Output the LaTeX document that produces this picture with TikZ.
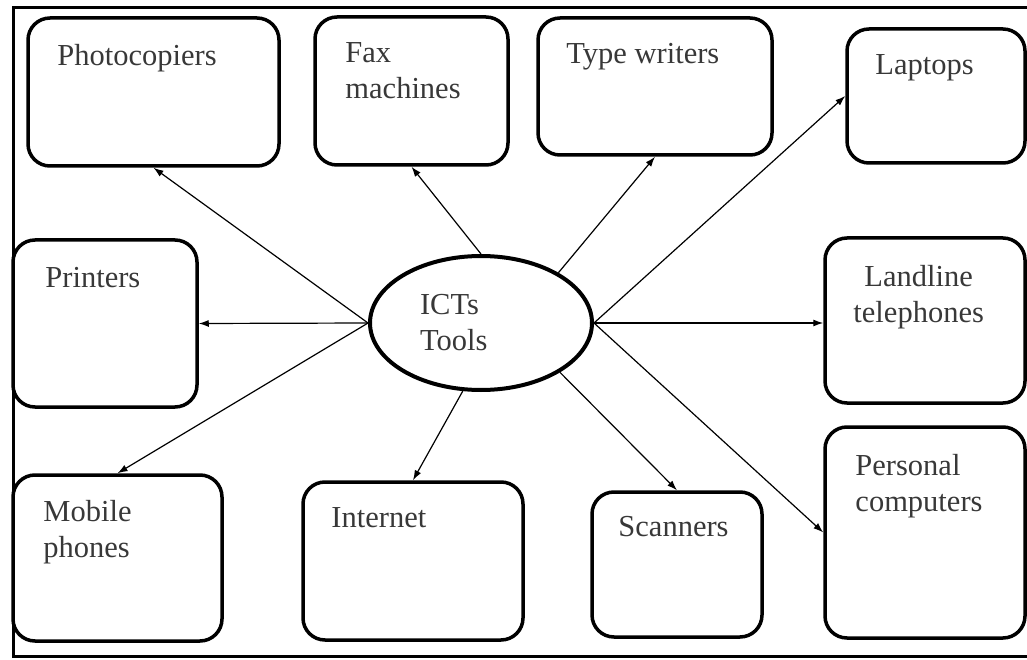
\documentclass[tikz,border=0pt]{standalone}
\usepackage{fontspec}
\setmainfont{Liberation Serif}
\usetikzlibrary{shapes.geometric,arrows.meta}
\begin{document}
\begin{tikzpicture}[x=1pt,y=-1pt]
	\tikzstyle{tool}=[draw,line width=3.5pt,rounded corners=22pt,inner sep=0pt]
	\tikzstyle{tag}=[anchor=north west,inner sep=0pt,align=left,text=black!78,font=\fontsize{30.5}{36}\selectfont]
	\tikzstyle{arr}=[line width=1.2pt,-{Latex[length=10pt,width=7pt]}]
	\useasboundingbox (0,0) rectangle (1027,660);
	\draw[line width=3pt] (13,8) rectangle (1032,656);
	% centre
	\node[draw,ellipse,line width=4pt,minimum width=222pt,minimum height=134pt,text width=122pt,align=left,text=black!78,font=\fontsize{30.5}{36}\selectfont] (ict) at (481,323) {ICTs\\Tools};
	% tools
	\node[tool,minimum width=251pt,minimum height=148pt] (photo) at (153.5,92) {};
	\node[tool,minimum width=193pt,minimum height=148pt] (fax) at (411.5,91) {};
	\node[tool,minimum width=234pt,minimum height=137pt] (type) at (655,86.5) {};
	\node[tool,minimum width=178pt,minimum height=134pt] (laptop) at (936,96) {};
	\node[tool,minimum width=184pt,minimum height=167pt] (printer) at (105,323.5) {};
	\node[tool,minimum width=200pt,minimum height=165pt] (landline) at (925,320.5) {};
	\node[tool,minimum width=209pt,minimum height=166pt] (mobile) at (117.5,558) {};
	\node[tool,minimum width=220pt,minimum height=158pt] (internet) at (413,561) {};
	\node[tool,minimum width=170pt,minimum height=145pt] (scanner) at (677,564.5) {};
	\node[tool,minimum width=200pt,minimum height=211pt] (pc) at (925,532.5) {};
	% texts
	\node[tag] (photo_t) at ([xshift=31pt,yshift=-27.5pt]photo.north west) {Photocopiers};
	\node[tag] (fax_t) at ([xshift=32pt,yshift=-27.5pt]fax.north west) {Fax\\machines};
	\node[tag] (type_t) at ([xshift=30pt,yshift=-27pt]type.north west) {Type writers};
	\node[tag] (laptop_t) at ([xshift=30pt,yshift=-27.5pt]laptop.north west) {Laptops};
	\node[tag] (printer_t) at ([xshift=34pt,yshift=-29pt]printer.north west) {Printers};
	\node[tag,align=center] (landline_t) at ([xshift=30pt,yshift=-28.5pt]landline.north west) {Landline\\telephones};
	\node[tag] (mobile_t) at ([xshift=32pt,yshift=-27pt]mobile.north west) {Mobile\\phones};
	\node[tag] (internet_t) at ([xshift=30pt,yshift=-27.5pt]internet.north west) {Internet};
	\node[tag] (scanner_t) at ([xshift=28pt,yshift=-26pt]scanner.north west) {Scanners};
	\node[tag] (pc_t) at ([xshift=32pt,yshift=-29pt]pc.north west) {Personal\\computers};
	% arrows
	\draw[arr] (ict.west) -- (photo.south);
	\draw[arr] (ict.west) -- (printer.east);
	\draw[arr] (ict.west) -- (mobile.north);
	\draw[arr] (ict.north) -- (fax.south);
	\draw[arr] (ict.33) -- (type.south);
	\draw[arr] (ict.east) -- (laptop.west);
	\draw[arr] (ict.east) -- (ict.east -| landline.west);
	\draw[arr] (ict.east) -- (pc.west);
	\draw[arr] (ict.-32) -- (scanner.north);
	\draw[arr] (ict.-105) -- (internet.north);
\end{tikzpicture}
\end{document}
